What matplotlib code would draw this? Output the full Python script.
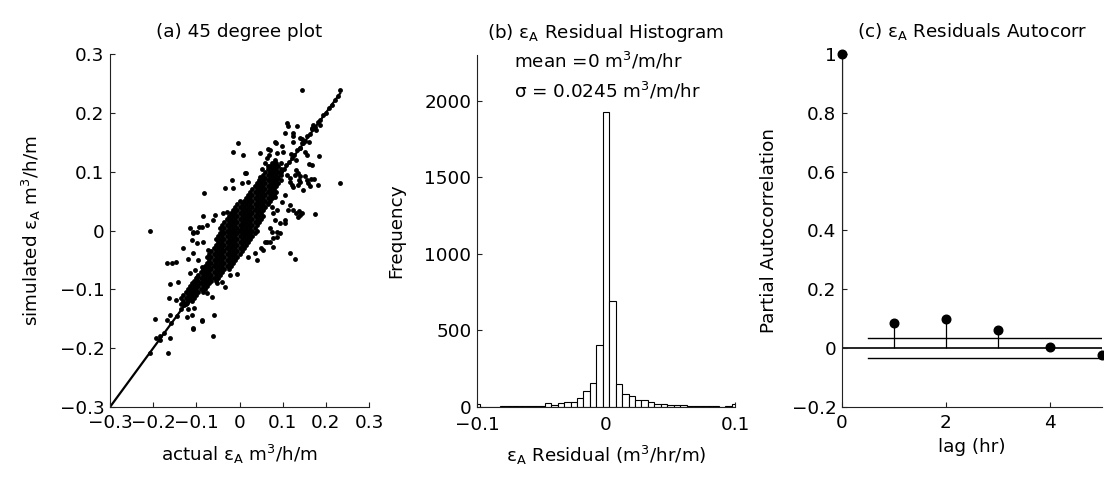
import numpy as np
import matplotlib
matplotlib.use("Agg")
import matplotlib.pyplot as plt

plt.rcParams['font.family'] = ['DejaVu Sans']
plt.rcParams['mathtext.fontset'] = 'dejavusans'
FS = 13.2

# ---------------- (a) 45 degree plot data ----------------
# dense core: rows of (simulated value, list of actual values)
core_rows = [
    (0.115, [0.075, 0.085, 0.095]),
    (0.110, [0.07, 0.08, 0.09]),
    (0.105, [0.065, 0.075, 0.085, 0.095]),
    (0.100, [0.06, 0.07, 0.08, 0.09]),
    (0.095, [0.055, 0.065, 0.075, 0.085, 0.095]),
    (0.090, [0.05, 0.06, 0.07, 0.08, 0.09]),
    (0.085, [0.045, 0.055, 0.065, 0.075, 0.085, 0.095]),
    (0.080, [0.04, 0.05, 0.06, 0.07, 0.08, 0.09]),
    (0.075, [0.035, 0.045, 0.055, 0.065, 0.075, 0.085]),
    (0.070, [0.03, 0.04, 0.05, 0.06, 0.07, 0.08]),
    (0.065, [0.025, 0.035, 0.045, 0.055, 0.065, 0.075, 0.085]),
    (0.060, [0.02, 0.03, 0.04, 0.05, 0.06, 0.07, 0.08]),
    (0.055, [0.015, 0.025, 0.035, 0.045, 0.055, 0.065, 0.075]),
    (0.050, [0.0, 0.01, 0.02, 0.03, 0.04, 0.05, 0.06, 0.07]),
    (0.045, [-0.005, 0.005, 0.015, 0.025, 0.035, 0.045, 0.055, 0.065]),
    (0.040, [-0.01, 0.0, 0.01, 0.02, 0.03, 0.04, 0.05, 0.06]),
    (0.035, [-0.015, -0.005, 0.005, 0.015, 0.025, 0.035, 0.045, 0.055]),
    (0.030, [-0.02, -0.01, 0.0, 0.01, 0.02, 0.03, 0.04, 0.05]),
    (0.025, [-0.025, -0.015, -0.005, 0.005, 0.015, 0.025, 0.035, 0.045, 0.055]),
    (0.020, [-0.03, -0.02, -0.01, 0.0, 0.01, 0.02, 0.03, 0.04, 0.05]),
    (0.015, [-0.035, -0.025, -0.015, -0.005, 0.005, 0.015, 0.025, 0.035, 0.045]),
    (0.010, [-0.04, -0.03, -0.02, -0.01, 0.0, 0.01, 0.02, 0.03, 0.04]),
    (0.005, [-0.045, -0.035, -0.025, -0.015, -0.005, 0.005, 0.015, 0.025, 0.035]),
    (0.000, [-0.04, -0.03, -0.02, -0.01, 0.0, 0.01, 0.02, 0.03, 0.04]),
    (-0.005, [-0.045, -0.035, -0.025, -0.015, -0.005, 0.005, 0.015, 0.025, 0.035]),
    (-0.010, [-0.05, -0.04, -0.03, -0.02, -0.01, 0.0, 0.01, 0.02, 0.03]),
    (-0.015, [-0.055, -0.045, -0.035, -0.025, -0.015, -0.005, 0.005, 0.015, 0.025]),
    (-0.020, [-0.05, -0.04, -0.03, -0.02, -0.01, 0.0, 0.01, 0.02]),
    (-0.025, [-0.055, -0.045, -0.035, -0.025, -0.015, -0.005, 0.005, 0.015]),
    (-0.030, [-0.06, -0.05, -0.04, -0.03, -0.02, -0.01, 0.0, 0.01]),
    (-0.035, [-0.065, -0.055, -0.045, -0.035, -0.025, -0.015, -0.005, 0.005]),
    (-0.040, [-0.07, -0.06, -0.05, -0.04, -0.03, -0.02, -0.01, 0.0]),
    (-0.045, [-0.075, -0.065, -0.055, -0.045, -0.035, -0.025, -0.015, -0.005]),
    (-0.050, [-0.07, -0.06, -0.05, -0.04, -0.03, -0.02, -0.01]),
    (-0.055, [-0.075, -0.065, -0.055, -0.045, -0.035, -0.025, -0.015]),
    (-0.060, [-0.08, -0.07, -0.06, -0.05, -0.04, -0.03, -0.02]),
    (-0.065, [-0.085, -0.075, -0.065, -0.055, -0.045, -0.035, -0.025]),
    (-0.070, [-0.09, -0.08, -0.07, -0.06, -0.05, -0.04]),
    (-0.075, [-0.095, -0.085, -0.075, -0.065, -0.055, -0.045]),
    (-0.080, [-0.1, -0.09, -0.08, -0.07, -0.06, -0.05]),
    (-0.085, [-0.105, -0.095, -0.085, -0.075, -0.065, -0.055]),
    (-0.090, [-0.11, -0.1, -0.09, -0.08, -0.07]),
    (-0.095, [-0.115, -0.105, -0.095, -0.085, -0.075]),
    (-0.100, [-0.12, -0.11, -0.1, -0.09, -0.08]),
    (-0.105, [-0.125, -0.115, -0.105, -0.095, -0.085]),
    (-0.110, [-0.13, -0.12, -0.11, -0.1]),
    (-0.115, [-0.135, -0.125, -0.115, -0.105]),
    (-0.120, [-0.13, -0.12, -0.11]),
    (-0.125, [-0.135, -0.125]),
]

# scattered points (actual, simulated)
scatter_actual = [
    -0.208, 0.232, 0.145, 0.232, 0.175, 0.185, -0.004, -0.016, 0.008, -0.082,
    0.016, 0.118, 0.128, -0.208, -0.166, -0.195, -0.194, -0.162, -0.162, -0.161,
    -0.168, -0.157, -0.147, -0.108, -0.062, -0.058, -0.087, -0.130, -0.108, -0.094,
    -0.085, 0.109, 0.112, 0.134, 0.125, 0.168, 0.123, 0.162, 0.165, 0.137,
    0.125, 0.118, 0.138, 0.084, 0.069, 0.048, 0.066, 0.080, 0.159, 0.182,
    0.132, -0.119, -0.142, -0.163, -0.148, -0.169, -0.107, -0.088, -0.122, -0.111,
    -0.105, -0.119, -0.184, -0.076, -0.064, -0.053, -0.041, -0.034, -0.068, -0.022,
    -0.006, -0.115, -0.111, -0.122, 0.113, 0.132, 0.140, 0.144, 0.136, 0.105,
    0.121, 0.125, 0.136, 0.140, 0.156, 0.152, 0.173, 0.129, 0.136, 0.105,
    0.086, 0.094, 0.078, 0.071, 0.063, 0.055, 0.036, 0.078, 0.086, 0.075,
    0.067, 0.098, 0.082, 0.105, 0.125, 0.140, 0.082, 0.098, 0.101, 0.071,
    0.063, 0.052, 0.059, 0.067, 0.082, 0.086, 0.167, 0.140, 0.117, 0.163,
    0.148, 0.152, 0.156, 0.148, 0.140, -0.034, -0.018, -0.014, 0.013, 0.020,
    0.005, 0.047, 0.071, 0.047, 0.109, 0.117, -0.061, -0.057, -0.038, -0.030,
    -0.099, -0.107, -0.115, -0.088, -0.076, -0.111, -0.099, -0.084, -0.072, -0.107,
    -0.095, -0.088, -0.103, -0.099, 0.082, 0.094, 0.105, 0.075, 0.086, 0.071,
    0.059, 0.078, 0.040, 0.020, 0.050,
    # points lying on / along the diagonal
    0.095, 0.102, 0.108, 0.115, 0.121, 0.127, 0.133, 0.139, 0.145, 0.151,
    0.157, 0.163, 0.169, 0.175, 0.181, 0.187, 0.193, 0.200, 0.207, 0.215,
    0.222, 0.229, 0.120, 0.130, 0.145, 0.160, 0.170, 0.178, 0.186,
    -0.185, -0.175, -0.158, -0.145, -0.135, -0.128,
]
scatter_sim = [
    0.000, 0.239, 0.239, 0.081, 0.028, 0.127, 0.148, 0.133, 0.128, 0.063,
    0.098, -0.038, -0.048, -0.208, -0.208, -0.151, -0.183, -0.183, -0.143, -0.091,
    -0.056, -0.055, -0.053, -0.167, -0.180, -0.143, -0.153, -0.030, -0.003, 0.006,
    0.024, 0.182, 0.178, 0.177, 0.165, 0.175, 0.160, 0.113, 0.087, 0.033,
    0.035, 0.043, 0.086, 0.149, 0.128, 0.131, 0.139, 0.115, 0.081, 0.077,
    0.102, -0.048, -0.087, -0.114, -0.118, -0.152, -0.166, -0.152, -0.147, -0.143,
    -0.132, -0.134, -0.179, -0.107, -0.113, -0.090, -0.087, -0.096, -0.081, -0.076,
    -0.074, -0.073, -0.101, -0.124, 0.035, 0.030, 0.026, 0.030, 0.023, 0.060,
    0.077, 0.074, 0.077, 0.083, 0.086, 0.093, 0.087, 0.094, 0.097, 0.012,
    -0.002, -0.005, -0.013, 0.004, -0.019, -0.033, -0.039, 0.029, 0.035, 0.040,
    0.046, 0.049, 0.057, 0.165, 0.151, 0.157, 0.151, 0.143, 0.134, 0.137,
    0.123, 0.104, 0.114, 0.109, 0.120, 0.131, 0.111, 0.092, 0.083, 0.076,
    0.069, 0.134, 0.128, 0.148, 0.140, 0.072, 0.086, 0.072, 0.097, 0.083,
    0.080, 0.091, 0.097, 0.069, 0.094, 0.089, 0.018, 0.026, 0.029, 0.032,
    -0.002, -0.005, 0.004, 0.006, 0.009, -0.016, -0.022, -0.019, -0.033, -0.039,
    -0.050, -0.062, -0.067, -0.079, 0.018, 0.012, 0.018, -0.002, -0.011, -0.019,
    -0.019, -0.028, -0.050, -0.045, -0.030,
    0.100, 0.104, 0.112, 0.116, 0.124, 0.128, 0.136, 0.140, 0.148, 0.152,
    0.160, 0.164, 0.172, 0.176, 0.184, 0.188, 0.196, 0.200, 0.208, 0.214,
    0.222, 0.228, 0.130, 0.120, 0.155, 0.150, 0.180, 0.170, 0.180,
    -0.186, -0.174, -0.157, -0.146, -0.133, -0.127,
]
line_ends = [-0.3, 0.233]

# ---------------- (b) histogram data ----------------
bin_first_center = -0.1
bin_width = 0.005
hist_counts = [20, 2, 2, 3, 4, 5, 6, 7, 8, 8,
               9, 24, 15, 28, 33, 33, 60, 105, 160, 405,
               1930, 690, 152, 87, 70, 48, 46, 30, 17, 20,
               13, 13, 13, 9, 6, 6, 5, 4, 3, 4, 22]
hist_mean_text = 'mean =0 m$^3$/m/hr'
hist_sigma_text = 'σ = 0.0245 m$^3$/m/hr'

# ---------------- (c) partial autocorrelation ----------------
lags = [0, 1, 2, 3, 4, 5]
pacf = [1.0, 0.085, 0.100, 0.062, 0.005, -0.022]
conf_bound = 0.033
conf_start = 0.5

# ---------------- figure ----------------
fig = plt.figure(figsize=(11.04, 4.79), dpi=100)
W, H = 1104, 479
ax1 = fig.add_axes([110 / W, 72 / H, 259 / W, 353 / H])
ax2 = fig.add_axes([477 / W, 72 / H, 258 / W, 352 / H])
ax3 = fig.add_axes([842 / W, 72 / H, 260 / W, 353 / H])

def style(ax, xpad=5):
    for s in ('top', 'right'):
        ax.spines[s].set_visible(False)
    for s in ('left', 'bottom'):
        ax.spines[s].set_linewidth(0.8)
        ax.spines[s].set_color('#222222')
    ax.tick_params(direction='in', length=3.6, width=0.8, labelsize=FS,
                   pad=4, colors='#222222', labelcolor='black')
    ax.tick_params(axis='x', pad=xpad)

# (a)
core_x, core_y = [], []
for yv, xs in core_rows:
    for xv in xs:
        core_x.append(xv)
        core_y.append(yv)
ax1.plot(line_ends, line_ends, color='k', lw=1.6, zorder=2)
ax1.plot(core_x, core_y, 'o', color='k', ms=3.5, mew=0, zorder=3)
ax1.plot(scatter_actual, scatter_sim, 'o', color='k', ms=3.5, mew=0, zorder=3)
ax1.set_xlim(-0.3, 0.3)
ax1.set_ylim(-0.3, 0.3)
ticks_a = [-0.3, -0.2, -0.1, 0, 0.1, 0.2, 0.3]
labels_a = ['\u22120.3', '\u22120.2', '\u22120.1', '0', '0.1', '0.2', '0.3']
ax1.set_xticks(ticks_a, labels_a)
ax1.set_yticks(ticks_a, labels_a)
style(ax1)
ax1.set_title('(a) 45 degree plot', fontsize=FS, pad=12)
ax1.set_xlabel('actual ε$_\\mathrm{A}$ m$^3$/h/m', fontsize=FS, labelpad=8)
ax1.set_ylabel('simulated ε$_\\mathrm{A}$ m$^3$/h/m', fontsize=FS)
ax1.yaxis.set_label_coords(-0.259, 0.5)

# (b)
centers = [bin_first_center + i * bin_width for i in range(len(hist_counts))]
ax2.bar(centers, hist_counts, width=bin_width, facecolor='white',
        edgecolor='k', linewidth=0.8, zorder=2)
ax2.set_xlim(-0.1, 0.1)
ax2.set_ylim(0, 2300)
ax2.set_xticks([-0.1, 0, 0.1], ['\u22120.1', '0', '0.1'])
ax2.set_yticks([0, 500, 1000, 1500, 2000], ['0', '500', '1000', '1500', '2000'])
style(ax2, xpad=6.5)
ax2.set_title('(b) ε$_\\mathrm{A}$ Residual Histogram', fontsize=FS, pad=12)
ax2.set_xlabel('ε$_\\mathrm{A}$ Residual (m$^3$/hr/m)', fontsize=FS, labelpad=7)
ax2.set_ylabel('Frequency', fontsize=FS)
ax2.yaxis.set_label_coords(-0.279, 0.5)
ax2.text(-0.0715, 2262, hist_mean_text, fontsize=FS, va='center', ha='left')
ax2.text(-0.0715, 2065, hist_sigma_text, fontsize=FS, va='center', ha='left')

# (c)
ax3.axhline(0, color='k', lw=1.2, zorder=1)
ax3.plot([conf_start, lags[-1]], [conf_bound, conf_bound], color='k', lw=1.0)
ax3.plot([conf_start, lags[-1]], [-conf_bound, -conf_bound], color='k', lw=1.0)
ax3.vlines(lags, 0, pacf, color='k', lw=0.9)
ax3.plot(lags, pacf, 'o', color='k', ms=6.2, clip_on=False, zorder=4)
ax3.set_xlim(0, 5)
ax3.set_ylim(-0.2, 1.0)
ax3.set_xticks([0, 2, 4], ['0', '2', '4'])
ax3.set_yticks([-0.2, 0, 0.2, 0.4, 0.6, 0.8, 1.0],
               ['\u22120.2', '0', '0.2', '0.4', '0.6', '0.8', '1'])
style(ax3)
ax3.set_title('(c) ε$_\\mathrm{A}$ Residuals Autocorr', fontsize=FS, pad=12)
ax3.set_xlabel('lag (hr)', fontsize=FS, labelpad=4)
ax3.set_ylabel('Partial Autocorrelation', fontsize=FS)
ax3.yaxis.set_label_coords(-0.246, 0.5)

fig.savefig('out.png', dpi=100)
